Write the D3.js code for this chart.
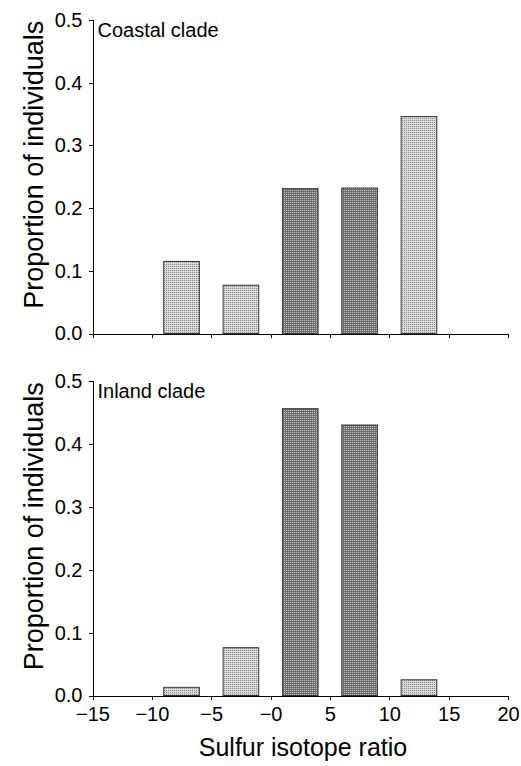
<!DOCTYPE html>
<html>
<head>
<meta charset="utf-8">
<script src="https://cdnjs.cloudflare.com/ajax/libs/d3/7.8.5/d3.min.js"></script>
<style>
  body { margin: 0; background: #fff; }
  svg { display: block; font-family: "Liberation Sans", Arial, sans-serif; }
  .axis path, .axis line { stroke: #000; stroke-width: 1; shape-rendering: crispEdges; }
  .axis text { font-size: 20px; fill: #000; }
</style>
</head>
<body>
<svg id="chart" width="521" height="766"></svg>
<script>
// bin centres (sulfur isotope ratio), bins 3 units wide
var binCenters = [-12.5, -7.5, -2.5, 2.5, 7.5, 12.5, 17.5];
var coastal = [0, 0.115, 0.077, 0.231, 0.232, 0.346, 0];
var inland  = [0, 0.013, 0.076, 0.456, 0.430, 0.025, 0];
// which bins are drawn in the darker shade
var darkBin = [false, false, false, true, true, false, false];
var xTicks = [-15, -10, -5, 0, 5, 10, 15, 20];
var xTickLabels = ["\u221215", "\u221210", "\u22125", "\u22120", "5", "10", "15", "20"];
var yTicks = [0, 0.1, 0.2, 0.3, 0.4, 0.5];

var svg = d3.select("#chart");

// halftone-ish fills
var defs = svg.append("defs");
var pl = defs.append("pattern").attr("id", "light").attr("width", 2).attr("height", 2)
    .attr("patternUnits", "userSpaceOnUse");
pl.append("rect").attr("width", 2).attr("height", 2).attr("fill", "#dadada");
pl.append("rect").attr("width", 1).attr("height", 1).attr("fill", "#888");
var pd = defs.append("pattern").attr("id", "dark").attr("width", 2).attr("height", 2)
    .attr("patternUnits", "userSpaceOnUse");
pd.append("rect").attr("width", 2).attr("height", 2).attr("fill", "#6e6e6e");
pd.append("rect").attr("width", 1).attr("height", 1).attr("fill", "#c4c4c4");

var xScale = d3.scaleLinear().domain([-15, 20]).range([92.5, 508]);

function panel(values, top, bottom, label, showLabels) {
    var yScale = d3.scaleLinear().domain([0, 0.5]).range([bottom, top]);
    var g = svg.append("g");

    var yAxis = d3.axisLeft(yScale).tickValues(yTicks)
        .tickFormat(d3.format(".1f")).tickSizeOuter(0).tickSize(4).tickPadding(6);
    g.append("g").attr("class", "axis")
        .attr("transform", "translate(" + xScale(-15) + ",0)")
        .call(yAxis);

    var xAxis = d3.axisBottom(xScale).tickValues(xTicks).tickSizeOuter(0).tickSize(4)
        .tickPadding(7)
        .tickFormat(function(d, i) { return showLabels ? xTickLabels[i] : ""; });
    g.append("g").attr("class", "axis x-axis")
        .attr("transform", "translate(0," + bottom + ")")
        .call(xAxis);

    g.selectAll(".bar")
        .data(binCenters.map(function(c, i) { return {c: c, v: values[i], dark: darkBin[i]}; })
              .filter(function(d) { return d.v > 0; }))
        .enter().append("rect")
        .attr("class", "bar")
        .attr("x", function(d) { return xScale(d.c - 1.5); })
        .attr("width", function(d) { return xScale(d.c + 1.5) - xScale(d.c - 1.5); })
        .attr("y", function(d) { return yScale(d.v); })
        .attr("height", function(d) { return bottom - yScale(d.v); })
        .attr("fill", function(d) { return d.dark ? "url(#dark)" : "url(#light)"; })
        .attr("stroke", "#333")
        .attr("stroke-width", 1);

    g.append("text")
        .attr("x", xScale(-15) + 5)
        .attr("y", top + 16.5)
        .attr("font-size", 20)
        .text(label);

    g.append("text")
        .attr("transform", "translate(43," + ((top + bottom) / 2 - 12) + ") rotate(-90)")
        .attr("text-anchor", "middle")
        .attr("font-size", 27)
        .text("Proportion of individuals");
}

panel(coastal, 20, 333.5, "Coastal clade", false);
panel(inland, 381, 695.5, "Inland clade", true);

svg.append("text")
    .attr("x", 303)
    .attr("y", 756)
    .attr("text-anchor", "middle")
    .attr("font-size", 25)
    .text("Sulfur isotope ratio");
</script>
</body>
</html>
